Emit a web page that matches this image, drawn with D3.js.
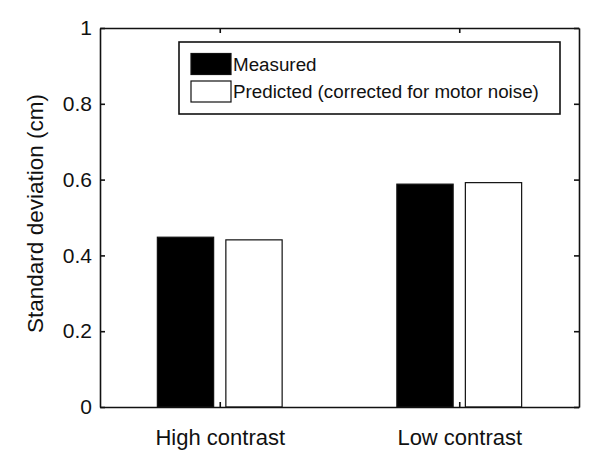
<!DOCTYPE html>
<html><head><meta charset="utf-8">
<script src="https://cdn.jsdelivr.net/npm/d3@7"></script>
<style>body{margin:0;background:#fff}svg{display:block}text{font-family:"Liberation Sans",Arial,sans-serif;fill:#111}</style>
</head><body><div id="chart"></div>
<script>
const categories = ["High contrast", "Low contrast"];
const seriesNames = ["Measured", "Predicted (corrected for motor noise)"];
const measured = [0.448, 0.588];
const predicted = [0.441, 0.592];
const yTicks = [0, 0.2, 0.4, 0.6, 0.8, 1];
const yTickLabels = ["0", "0.2", "0.4", "0.6", "0.8", "1"];
const yLabel = "Standard deviation (cm)";

const W = 600, H = 472;
const m = {left: 100, right: 21, top: 28, bottom: 65};
const pw = W - m.left - m.right, ph = H - m.top - m.bottom;
const svg = d3.select("#chart").append("svg").attr("width", W).attr("height", H);
const g = svg.append("g").attr("transform", `translate(${m.left},${m.top})`);

const x = d3.scaleLinear().domain([0.5, 2.5]).range([0, pw]);
const y = d3.scaleLinear().domain([0, 1]).range([ph, 0]);
const bw = 0.235, off = 0.143;
const series = [{vals: measured, fill: "#000", dx: -off}, {vals: predicted, fill: "#fff", dx: off}];

series.forEach(s => {
  g.selectAll(null).data(s.vals).enter().append("rect")
    .attr("x", (d, i) => x(i + 1 + s.dx - bw / 2))
    .attr("width", x(bw) - x(0))
    .attr("y", d => y(d))
    .attr("height", d => y(0) - y(d))
    .attr("fill", s.fill).attr("stroke", "#111").attr("stroke-width", 1.2);
});

const tickLen = 5;
const yAxis = d3.axisLeft(y).tickValues(yTicks).tickFormat((d, i) => yTickLabels[i]).tickSizeInner(-tickLen).tickSizeOuter(0).tickPadding(8);
const xAxis = d3.axisBottom(x).tickValues([1, 2]).tickFormat((d, i) => categories[i]).tickSizeInner(-tickLen).tickSizeOuter(0).tickPadding(22);
const yR = d3.axisRight(y).tickValues(yTicks).tickFormat("").tickSizeInner(-tickLen).tickSizeOuter(0);
const xT = d3.axisTop(x).tickValues([1, 2]).tickFormat("").tickSizeInner(-tickLen).tickSizeOuter(0);
const style = (sel, fs) => { sel.selectAll("path,line").attr("stroke", "#111").attr("stroke-width", 1.6); sel.selectAll("text").attr("font-size", fs).attr("fill", "#111"); };
g.append("g").call(yAxis).call(style, 21);
g.append("g").attr("transform", `translate(0,${ph})`).call(xAxis).call(style, 22);
g.append("g").attr("transform", `translate(${pw},0)`).call(yR).call(style, 20);
g.append("g").call(xT).call(style, 20);

svg.append("text").attr("transform", `translate(43,${m.top + ph / 2 - 4}) rotate(-90)`)
  .attr("text-anchor", "middle").attr("font-size", 22.5).text(yLabel);

const lg = svg.append("g").attr("transform", "translate(179,42)");
lg.append("rect").attr("width", 381).attr("height", 72).attr("fill", "#fff").attr("stroke", "#111").attr("stroke-width", 1.6);
seriesNames.forEach((n, i) => {
  lg.append("rect").attr("x", 12).attr("y", 11.5 + i * 27.5).attr("width", 40).attr("height", 21)
    .attr("fill", series[i].fill).attr("stroke", "#111").attr("stroke-width", 1.2);
  lg.append("text").attr("x", 54).attr("y", 22 + i * 27.5).attr("dy", "0.35em").attr("font-size", 18.8).text(n);
});
</script></body></html>
